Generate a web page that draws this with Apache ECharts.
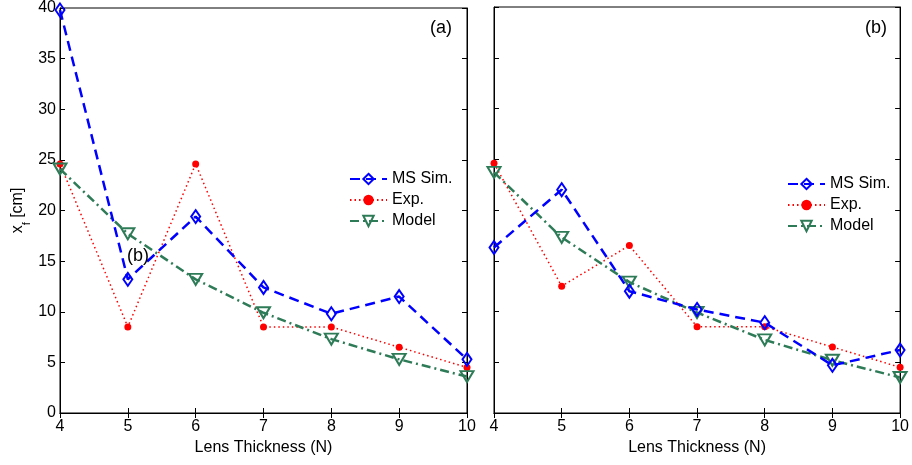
<!DOCTYPE html>
<html>
<head>
<meta charset="utf-8">
<script src="https://cdn.jsdelivr.net/npm/echarts@6/dist/echarts.min.js"></script>
<style>html,body{margin:0;padding:0;background:#fff}#c{width:912px;height:465px}</style>
</head>
<body>
<div id="c"></div>
<script>
var xVals = [4, 5, 6, 7, 8, 9, 10];
var msSimA = [39.8, 13.2, 19.4, 12.4, 9.8, 11.5, 5.3];
var expA = [24.6, 8.5, 24.6, 8.5, 8.5, 6.5, 4.5];
var modelA = [24.1, 17.7, 13.2, 9.9, 7.3, 5.3, 3.6];
var msSimB = [16.3, 22.0, 12.0, 10.2, 8.9, 4.7, 6.2];
var expB = [24.6, 12.5, 16.5, 8.5, 8.5, 6.5, 4.5];
var modelB = [23.7, 17.3, 12.9, 9.9, 7.2, 5.2, 3.5];
var seriesNames = ['MS Sim.', 'Exp.', 'Model'];
var panelLabels = ['(a)', '(b)'];

var FONT = 'Liberation Sans, Arial, Helvetica, sans-serif';
var BLUE = '#0000ff', RED = '#ff0000', GREEN = '#2e7b57';

function pairs(ys) { return xVals.map(function (x, i) { return [x, ys[i]]; }); }

var grids = [
  { left: 60, top: 7, width: 407, height: 406, show: true, borderColor: '#000', borderWidth: 1, backgroundColor: '#fff' },
  { left: 494, top: 7, width: 407, height: 406, show: true, borderColor: '#000', borderWidth: 1, backgroundColor: '#fff' }
];

function xAxisFor(g, pos, labels) {
  return {
    type: 'value', gridIndex: g, position: pos, min: 4, max: 10, interval: 1,
    name: (labels ? 'Lens Thickness (N)' : ''), nameLocation: 'middle', nameGap: 25,
    nameTextStyle: { fontFamily: FONT, fontSize: 16, color: '#000' },
    axisLine: { show: true, lineStyle: { color: '#000', width: 1 } },
    axisTick: { show: true, inside: true, length: 5, lineStyle: { color: '#000' } },
    axisLabel: { show: labels, fontFamily: FONT, fontSize: 16, color: '#000', margin: 6 },
    splitLine: { show: false }
  };
}
function yAxisFor(g, pos, labels, named) {
  return {
    type: 'value', gridIndex: g, position: pos, min: 0, max: 40, interval: 5,
    name: named ? 'x{sub|f} [cm]' : '', nameLocation: 'middle', nameGap: 34, nameRotate: 90,
    nameTextStyle: { fontFamily: FONT, fontSize: 16, color: '#000',
      rich: { sub: { fontFamily: FONT, fontSize: 11, verticalAlign: 'bottom', padding: [0, 0, -6, 0] } } },
    axisLine: { show: true, lineStyle: { color: '#000', width: 1 } },
    axisTick: { show: true, inside: true, length: 5, lineStyle: { color: '#000' } },
    axisLabel: { show: labels, fontFamily: FONT, fontSize: 16, color: '#000', margin: 4 },
    splitLine: { show: false }
  };
}

function msSeries(data, xi, yi) {
  return { name: seriesNames[0], type: 'line', xAxisIndex: xi, yAxisIndex: yi, data: pairs(data), clip: false,
    symbol: 'diamond', symbolSize: [9, 13],
    lineStyle: { color: BLUE, width: 2.5, type: [10, 6] },
    itemStyle: { color: 'rgba(255,255,255,0)', borderColor: BLUE, borderWidth: 2 }, z: 3 };
}
function expSeries(data, xi, yi) {
  return { name: seriesNames[1], type: 'line', xAxisIndex: xi, yAxisIndex: yi, data: pairs(data), clip: false,
    symbol: 'circle', symbolSize: 7,
    lineStyle: { color: RED, width: 1.5, type: [1.5, 3] },
    itemStyle: { color: RED, borderColor: RED, borderWidth: 0 }, z: 2 };
}
function modelSeries(data, xi, yi) {
  return { name: seriesNames[2], type: 'line', xAxisIndex: xi, yAxisIndex: yi, data: pairs(data), clip: false,
    symbol: 'triangle', symbolSize: [13, 11], symbolRotate: 180,
    lineStyle: { color: GREEN, width: 2.5, type: [9, 4, 2, 4] },
    itemStyle: { color: 'rgba(255,255,255,0)', borderColor: GREEN, borderWidth: 2 }, z: 2 };
}

function legendAt(left, top) {
  return { data: seriesNames, orient: 'vertical', left: left, top: top, itemWidth: 37, itemHeight: 13, itemGap: 5,
    selectedMode: false, textStyle: { fontFamily: FONT, fontSize: 16, color: '#000' } };
}

var option = {
  animation: false,
  grid: grids,
  xAxis: [xAxisFor(0, 'bottom', true), xAxisFor(0, 'top', false), xAxisFor(1, 'bottom', true), xAxisFor(1, 'top', false)],
  yAxis: [yAxisFor(0, 'left', true, true), yAxisFor(0, 'right', false, false), yAxisFor(1, 'left', false, false), yAxisFor(1, 'right', false, false)],
  legend: [legendAt(344, 166), legendAt(782, 171)],
  series: [
    msSeries(msSimA, 0, 0), expSeries(expA, 0, 0), modelSeries(modelA, 0, 0),
    msSeries(msSimB, 2, 2), expSeries(expB, 2, 2), modelSeries(modelB, 2, 2)
  ],
  graphic: [
    { type: 'text', left: 430, top: 19, style: { text: panelLabels[0], fontFamily: FONT, fontSize: 18, fill: '#000' }, z: 10 },
    { type: 'text', left: 865, top: 19, style: { text: panelLabels[1], fontFamily: FONT, fontSize: 18, fill: '#000' }, z: 10 },
    { type: 'text', left: 127, top: 247, style: { text: panelLabels[1], fontFamily: FONT, fontSize: 18, fill: '#000' }, z: 10 }
  ]
};
echarts.init(document.getElementById('c')).setOption(option);
</script>
</body>
</html>
